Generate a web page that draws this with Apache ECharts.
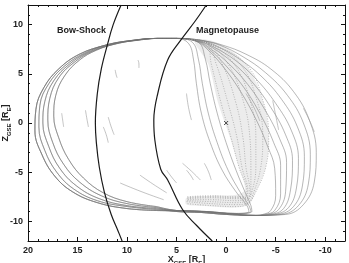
<!DOCTYPE html>
<html>
<head>
<meta charset="utf-8">
<script src="https://cdn.jsdelivr.net/npm/echarts@6/dist/echarts.min.js"></script>
<style>
  html, body { margin: 0; padding: 0; background: #fff; }
  #chart { width: 349px; height: 263px; }
</style>
</head>
<body>
<div id="chart"></div>
<script>
// boundaries [X, Z] in R_E
var bowShock = [[10.6,12],[11.4,10],[12.0,7.9],[12.6,5.5],[13.0,3],[13.2,0],[13.1,-2],[12.8,-4.5],[12.3,-7],[11.6,-9.3],[10.9,-11],[10.5,-12]]
var magnetopause = [[2.0,12],[3.1,10.4],[4.6,8.4],[5.9,6.4],[6.9,3],[7.3,0.3],[7.2,-1.7],[6.6,-4.7],[5.9,-5.8],[4.4,-8.8],[3.0,-10.4],[1.4,-12]]

// dayside halves of the orbits (bottom -> apogee -> top)
var leftArcs = [
  [[7,-8.9],[10,-8.7],[13,-8.1],[15.5,-7],[17.3,-5.4],[18.6,-3.2],[19.3,-0.8],[19.2,1.4],[18.4,3.6],[16.9,5.5],[14.8,7],[12.2,7.9],[9.5,8.4],[7,8.6]],
  [[7,-8.8],[10,-8.5],[13,-7.9],[15.4,-6.7],[17.1,-5],[18.3,-2.8],[18.9,-0.4],[18.8,1.8],[17.9,4],[16.3,5.8],[14.3,7.1],[11.9,8],[9.4,8.4],[7,8.6]],
  [[7,-8.7],[10,-8.4],[12.8,-7.7],[15.1,-6.4],[16.8,-4.6],[17.9,-2.4],[18.5,0],[18.3,2.2],[17.4,4.3],[15.8,6],[13.9,7.2],[11.6,8],[9.3,8.4],[7,8.6]],
  [[7,-8.6],[10,-8.2],[12.6,-7.4],[14.8,-6],[16.4,-4.2],[17.5,-2],[18,0.3],[17.8,2.5],[16.9,4.6],[15.3,6.2],[13.5,7.3],[11.3,8],[9.2,8.4],[7,8.6]],
  [[7,-8.5],[10,-8],[12.4,-7.1],[14.4,-5.6],[15.9,-3.7],[16.9,-1.5],[17.4,0.7],[17.2,2.8],[16.3,4.8],[14.8,6.4],[13.1,7.4],[11,8.1],[9,8.4],[7,8.6]]
]

// nightside halves (top -> right -> bottom)
var rightArcs = [
  [[5,8.6],[2.5,8.4],[0.3,7.9],[-2,7],[-4.5,5.5],[-6.8,3.2],[-8.4,0.3],[-9.1,-3],[-8.9,-6],[-7.8,-8.3],[-6,-9.3],[-3,-9.4],[0,-9.3],[2.5,-9.1],[5,-9]],
  [[5,8.6],[2.5,8.4],[0.6,7.9],[-1.6,6.8],[-4,5.1],[-6.2,2.8],[-7.8,0],[-8.5,-3.2],[-8.3,-6.2],[-7.3,-8.4],[-5.6,-9.3],[-3,-9.4],[0,-9.3],[2.5,-9.1],[5,-9]],
  [[5,8.6],[2.5,8.4],[0.9,7.8],[-1.2,6.6],[-3.5,4.8],[-5.6,2.4],[-7.2,-0.4],[-7.9,-3.4],[-7.7,-6.4],[-6.8,-8.5],[-5.2,-9.3],[-3,-9.4],[0,-9.3],[2.5,-9.1],[5,-9]],
  [[5,8.6],[2.6,8.3],[1.2,7.7],[-0.9,6.4],[-3,4.5],[-5,2],[-6.6,-0.8],[-7.3,-3.6],[-7.1,-6.6],[-6.3,-8.6],[-4.8,-9.3],[-3,-9.4],[0,-9.3],[2.5,-9.1],[5,-9]],
  [[5,8.6],[2.7,8.3],[1.3,7.6],[-0.6,6.2],[-2.6,4.2],[-4.5,1.6],[-6,-1.2],[-6.7,-3.8],[-6.5,-6.8],[-5.8,-8.7],[-4.5,-9.3],[-3,-9.4],[0,-9.2],[2.5,-9],[5,-8.9]],
  [[5,8.6],[2.8,8.3],[1.5,7.5],[-0.3,6],[-2.2,3.9],[-4,1.2],[-5.4,-1.6],[-6.1,-4],[-6,-7],[-5.3,-8.8],[-4.2,-9.3],[-3,-9.4],[0,-9.2],[2.5,-9],[5,-8.9]],
  [[5,8.6],[2.9,8.3],[1.6,7.4],[0,5.8],[-1.8,3.6],[-3.5,0.8],[-4.8,-2],[-5.5,-4.3],[-5.5,-7.2],[-4.9,-8.9],[-3.9,-9.3],[-3,-9.4],[0,-9.2],[2.5,-9],[5,-8.9]],
  [[5,8.6],[3,8.3],[1.7,7.3],[0.2,5.6],[-1.4,3.3],[-3,0.4],[-4.2,-2.4],[-4.9,-4.6],[-5,-7.4],[-4.5,-8.9],[-3.7,-9.3],[-3,-9.4],[0,-9.2],[2.5,-9],[5,-8.9]],
  [[5,8.6],[3.8,8.1],[3.3,6.5],[3.0,4],[2.5,1],[1.6,-2],[0.4,-4.8],[-1,-7],[-2.1,-8.4],[-2.3,-9],[-1,-9.2],[2,-9],[5,-8.9]],
  [[5,8.6],[3.4,8.2],[2.8,6.5],[2.4,4],[1.8,1],[0.9,-2],[-0.2,-4.8],[-1.4,-7],[-2.3,-8.4],[-2.5,-9],[-1,-9.2],[2,-9],[5,-8.9]],
  [[5,8.6],[2.8,8.2],[2.1,6.5],[1.6,4],[0.9,1],[0,-2],[-1,-4.8],[-1.9,-7],[-2.5,-8.4],[-2.6,-9],[-1,-9.2],[2,-9],[5,-8.9]]
]

// outline of the densely sampled (stippled) region near the cusp
var stippleOutline = [[3.2,8.4],[1.8,6],[0.8,2],[-0.4,-1.5],[-1.3,-4.5],[-1.9,-6.8],[-1,-7.3],[1.5,-7.4],[4,-7.6],[4,-8.3],[1.5,-8.5],[-1,-8.6],[-2.3,-8.3],[-3,-7],[-4,-4.5],[-4.3,-1.5],[-3.8,2],[-2,6],[1,8.2]]

// dotted passes inside that region
var dottedArcs = [
  [[4,8.5],[2,8.2],[-2.0,6],[-3.8,2],[-4.3,-1.5],[-4.0,-4.5],[-3.0,-7],[-2.2,-8.2],[-1,-8.5],[1.5,-8.4],[4,-8.2]],
  [[4,8.5],[2,8.2],[-1.4,6],[-3.2,2],[-3.7,-1.5],[-3.5,-4.5],[-2.8,-7],[-2.2,-8.1],[-1,-8.3],[1.5,-8.2],[4,-8]],
  [[4,8.5],[2,8.2],[-0.8,6],[-2.5,2],[-3.0,-1.5],[-3.0,-4.5],[-2.6,-7],[-2.1,-7.9],[-1,-8.1],[1.5,-8],[4,-7.9]],
  [[4,8.5],[2,8.2],[-0.2,6],[-1.8,2],[-2.4,-1.5],[-2.5,-4.5],[-2.5,-7],[-2.0,-7.8],[-1,-7.9],[1.5,-7.8],[4,-7.8]],
  [[4,8.5],[2,8.2],[0.4,6],[-1.0,2],[-1.7,-1.5],[-2.0,-4.5],[-2.4,-7],[-2.0,-7.7],[-1,-7.7],[1.5,-7.6],[4,-7.7]],
  [[4,8.5],[2,8.2],[1.0,6],[-0.2,2],[-1.1,-1.5],[-1.6,-4.5],[-2.2,-7],[-1.9,-7.6],[-1,-7.6],[1.5,-7.5],[4,-7.6]],
  [[4,8.5],[2,8.2],[1.5,6],[0.5,2],[-0.5,-1.5],[-1.3,-4.5],[-2.1,-7],[-1.8,-7.5],[-1,-7.5],[1.5,-7.4],[4,-7.5]]
]

// short partial passes
var shortArcs = [
  [[16.6,1.0],[16.5,0.3],[16.4,-0.4]],
  [[14.2,1.3],[14.05,0.4],[13.9,-0.4]],
  [[12.4,-0.4],[12.1,-1.2],[11.9,-2.0]],
  [[11.9,0.6],[11.6,-0.4],[11.3,-1.2]],
  [[11.2,5.4],[11.1,4.9],[11.0,4.6]],
  [[8.9,6.4],[8.8,6.0],[8.8,5.6]],
  [[4.0,3.0],[3.8,1.6],[3.5,0.3]],
  [[8.7,-5.3],[7.4,-6.2],[6.0,-7.1]],
  [[10.7,-6.1],[8.5,-7.0],[6.3,-7.8]],
  [[6.0,-4.8],[5.5,-5.5],[5.0,-6.1]],
  [[4.4,-4.1],[3.5,-4.9],[2.6,-5.8]],
  [[2.2,-4.1],[1.8,-4.9],[1.5,-5.8]],
  [[4.0,-4.8],[3.6,-5.3],[3.3,-5.8]],
  [[-7.8,1.5],[-8.4,0.3],[-8.9,-0.9]],
  [[-4.7,2.3],[-5.0,0.8],[-5.3,-0.7]],
  [[-2.0,3.0],[-2.8,1.6],[-3.4,0.2]]
]

var earth = [[0, 0]]
var xRange = [-12, 20]
var zRange = [-12, 12]

var chart = echarts.init(document.getElementById('chart'), null, { renderer: 'canvas' })

var FONT = '"Liberation Sans", Arial, sans-serif'

function makeLoop(left, right) {
  return left.concat(right, [left[0]])
}

function axisCommon(showLabels) {
  return {
    axisLine: { show: true, onZero: false, lineStyle: { color: '#111', width: 1 } },
    axisTick: { show: true, inside: true, length: 4, lineStyle: { color: '#111' } },
    minorTick: { show: true, splitNumber: 5, length: 2, lineStyle: { color: '#111' } },
    splitLine: { show: false },
    axisLabel: {
      show: showLabels, margin: 5, color: '#222', fontSize: 9,
      fontWeight: 'bold', fontFamily: FONT,
      formatter: function (v) { return v % 5 === 0 ? String(v) : '' }
    }
  }
}

var nameRich = {
  m: { fontSize: 9, fontWeight: 'bold', fontFamily: FONT, color: '#222', lineHeight: 12 },
  s: { fontSize: 6, fontWeight: 'bold', fontFamily: FONT, color: '#222', lineHeight: 12, verticalAlign: 'bottom' }
}

var series = []

series.push({
  type: 'custom', silent: true, data: [0],
  renderItem: function (params, api) {
    var pts = stippleOutline.map(function (p) { return api.coord(p) })
    return { type: 'polygon', shape: { points: pts, smooth: 0.3 }, style: { fill: '#ececec', stroke: null } }
  }
})

rightArcs.forEach(function (r, i) {
  series.push({
    type: 'line', data: makeLoop(leftArcs[i % leftArcs.length], r),
    smooth: 0.4, symbol: 'none', silent: true,
    lineStyle: { color: '#707070', width: 0.6, opacity: 0.85 }
  })
})

dottedArcs.forEach(function (d) {
  series.push({
    type: 'line', data: d, smooth: 0.4, symbol: 'none', silent: true,
    lineStyle: { color: '#8f8f8f', width: 0.6, type: [1, 1.5] }
  })
})

shortArcs.forEach(function (s) {
  series.push({
    type: 'line', data: s, smooth: true, symbol: 'none', silent: true,
    lineStyle: { color: '#9a9a9a', width: 0.6 }
  })
})

series.push({
  type: 'line', data: bowShock, smooth: 0.4, symbol: 'none', silent: true,
  lineStyle: { color: '#1a1a1a', width: 1.2 }
})
series.push({
  type: 'line', data: magnetopause, smooth: 0.4, symbol: 'none', silent: true,
  lineStyle: { color: '#1a1a1a', width: 1.2 }
})
series.push({
  type: 'scatter', data: earth, silent: true,
  symbol: 'path://M0,0L10,10M10,0L0,10', symbolSize: 4,
  itemStyle: { color: 'none', borderColor: '#111', borderWidth: 1 }
})

var option = {
  animation: false,
  backgroundColor: '#fff',
  grid: { left: 28, right: 4, top: 5, bottom: 22, containLabel: false, outerBoundsMode: 'none' },
  xAxis: [
    Object.assign({
      type: 'value', inverse: true, min: xRange[0], max: xRange[1], splitNumber: 6,
      position: 'bottom',
      name: '{m|X}{s|GSE}{m| [R}{s|E}{m|]}', nameLocation: 'middle', nameGap: 13,
      nameMoveOverlap: false,
      nameTextStyle: { rich: nameRich }
    }, axisCommon(true)),
    Object.assign({
      type: 'value', inverse: true, min: xRange[0], max: xRange[1], splitNumber: 6,
      position: 'top'
    }, axisCommon(false))
  ],
  yAxis: [
    Object.assign({
      type: 'value', min: zRange[0], max: zRange[1], splitNumber: 5,
      position: 'left',
      name: '{m|Z}{s|GSE}{m| [R}{s|E}{m|]}', nameLocation: 'middle', nameGap: 16,
      nameMoveOverlap: false,
      nameTextStyle: { rich: nameRich }
    }, axisCommon(true)),
    Object.assign({
      type: 'value', min: zRange[0], max: zRange[1], splitNumber: 5,
      position: 'right'
    }, axisCommon(false))
  ],
  graphic: [
    { type: 'text', left: 57, top: 26, style: { text: 'Bow-Shock', font: 'bold 9px ' + FONT, fill: '#222' } },
    { type: 'text', left: 196, top: 26, style: { text: 'Magnetopause', font: 'bold 9px ' + FONT, fill: '#222' } }
  ],
  series: series
}

chart.setOption(option)
</script>
</body>
</html>
